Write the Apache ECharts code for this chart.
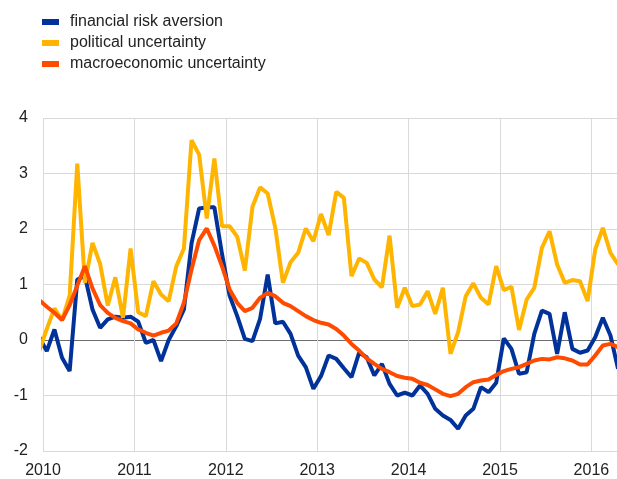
<!DOCTYPE html>
<html>
<head>
<meta charset="utf-8">
<script src="https://cdn.jsdelivr.net/npm/echarts@6/dist/echarts.min.js"></script>
<style>
  html, body { margin: 0; padding: 0; background: #fff; }
  #chart { width: 617px; height: 479px; }
</style>
</head>
<body>
<div id="chart"></div>
<script>
// monthly, Dec 2009 .. Apr 2016
const firstMonth = [2009, 12]
const yearTicks = ['2010', '2011', '2012', '2013', '2014', '2015', '2016']

const riskAversion = [
  0.05,
  -0.2, 0.19, -0.32, -0.56, 1.09, 1.15, 0.55, 0.22, 0.37, 0.42, 0.4, 0.42,
  0.33, -0.05, 0.0, -0.38, 0.0, 0.25, 0.55, 1.74, 2.37, 2.39, 2.39, 1.55,
  0.8, 0.43, 0.02, -0.02, 0.38, 1.18, 0.3, 0.33, 0.11, -0.28, -0.49, -0.88,
  -0.65, -0.28, -0.34, -0.51, -0.67, -0.23, -0.31, -0.64, -0.43, -0.79, -1.0, -0.95,
  -1.0, -0.82, -0.97, -1.24, -1.36, -1.44, -1.6, -1.36, -1.24, -0.85, -0.94, -0.77,
  0.03, -0.16, -0.61, -0.58, 0.11, 0.53, 0.47, -0.25, 0.5, -0.16, -0.23, -0.19,
  0.05, 0.4, 0.08, -0.52
]
const politicalUnc = [
  -0.2,
  0.2, 0.57, 0.36, 0.8, 3.18, 1.03, 1.75, 1.37, 0.62, 1.13, 0.4, 1.65,
  0.5, 0.43, 1.06, 0.82, 0.7, 1.33, 1.65, 3.6, 3.34, 2.19, 3.27, 2.05,
  2.05, 1.86, 1.25, 2.4, 2.75, 2.64, 2.02, 1.03, 1.4, 1.57, 2.01, 1.78,
  2.27, 1.89, 2.67, 2.56, 1.15, 1.47, 1.39, 1.09, 0.95, 1.88, 0.58, 0.94,
  0.61, 0.64, 0.88, 0.47, 0.94, -0.25, 0.14, 0.79, 1.02, 0.76, 0.64, 1.33,
  0.9, 0.96, 0.18, 0.73, 0.94, 1.66, 1.96, 1.36, 1.03, 1.08, 1.06, 0.7,
  1.63, 2.02, 1.57, 1.36
]
const macroUnc = [
  0.72,
  0.6, 0.49, 0.36, 0.63, 0.98, 1.33, 0.93, 0.63, 0.49, 0.4, 0.34, 0.3,
  0.19, 0.13, 0.08, 0.13, 0.17, 0.3, 0.67, 1.27, 1.8, 2.01, 1.7, 1.33,
  0.91, 0.67, 0.52, 0.58, 0.76, 0.85, 0.79, 0.67, 0.61, 0.52, 0.43, 0.36,
  0.31, 0.28, 0.2, 0.08, -0.07, -0.19, -0.33, -0.43, -0.52, -0.58, -0.65, -0.68,
  -0.7, -0.77, -0.81, -0.89, -0.97, -1.01, -0.97, -0.85, -0.76, -0.73, -0.71, -0.63,
  -0.56, -0.52, -0.49, -0.43, -0.37, -0.34, -0.35, -0.31, -0.33, -0.37, -0.44, -0.44,
  -0.28, -0.1, -0.07, -0.13
]

// mid-month position as a decimal year
function toPoints(values) {
  return values.map(function (v, i) {
    let m = firstMonth[1] - 1 + i
    let y = firstMonth[0] + Math.floor(m / 12)
    return [y + ((m % 12) + 0.5) / 12, v]
  })
}

const gridGray = '#d9d9d9'
const font = 'Liberation Sans, Arial, sans-serif'

const option = {
  animation: false,
  legend: {
    orient: 'vertical',
    left: 37,
    top: 9,
    itemWidth: 17,
    itemHeight: 6,
    itemGap: 5,
    icon: 'rect',
    textStyle: { fontFamily: font, fontSize: 16, color: '#222', padding: [0, 0, 0, 6] },
    data: ['financial risk aversion', 'political uncertainty', 'macroeconomic uncertainty']
  },
  grid: { left: 43, right: 0, top: 118, bottom: 27 },
  xAxis: {
    type: 'value',
    min: 2010,
    max: 2016.28,
    interval: 1,
    axisLine: { show: false },
    axisTick: { show: false },
    axisLabel: {
      fontFamily: font, fontSize: 16, color: '#222', margin: 12,
      showMaxLabel: false,
      formatter: function (v) { return yearTicks[Math.round(v) - 2010] || '' }
    },
    splitLine: { show: true, lineStyle: { color: gridGray, width: 1 } }
  },
  yAxis: {
    type: 'value',
    min: -2,
    max: 4,
    interval: 1,
    axisLine: { show: false },
    axisTick: { show: false },
    axisLabel: { fontFamily: font, fontSize: 16, color: '#222', margin: 15 },
    splitLine: {
      show: true,
      lineStyle: { color: [gridGray, gridGray, '#6e6e6e', gridGray, gridGray, gridGray, gridGray], width: 1 }
    }
  },
  series: [
    {
      name: 'financial risk aversion',
      type: 'line',
      data: toPoints(riskAversion),
      showSymbol: false,
      symbol: 'none',
      lineStyle: { color: '#003299', width: 4 },
      itemStyle: { color: '#003299' }
    },
    {
      name: 'political uncertainty',
      type: 'line',
      data: toPoints(politicalUnc),
      showSymbol: false,
      symbol: 'none',
      lineStyle: { color: '#FFB400', width: 4 },
      itemStyle: { color: '#FFB400' }
    },
    {
      name: 'macroeconomic uncertainty',
      type: 'line',
      data: toPoints(macroUnc),
      showSymbol: false,
      symbol: 'none',
      lineStyle: { color: '#FF4B00', width: 4 },
      itemStyle: { color: '#FF4B00' }
    }
  ]
}

const chart = echarts.init(document.getElementById('chart'))
chart.setOption(option)
</script>
</body>
</html>
